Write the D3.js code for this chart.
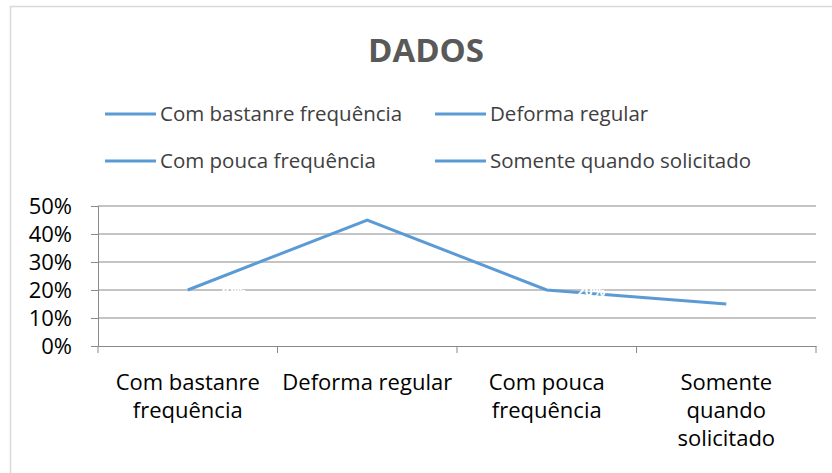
<!DOCTYPE html>
<html>
<head>
<meta charset="utf-8">
<script src="https://cdn.jsdelivr.net/npm/d3@7"></script>
<style>
  body { margin: 0; background: #fff; }
  text { font-family: "Open Sans", "Noto Sans", sans-serif; }
</style>
</head>
<body>
<div id="chart"></div>
<script>
const categories = ["Com bastanre frequência", "Deforma regular", "Com pouca frequência", "Somente quando solicitado"];
const catLines = [["Com bastanre", "frequência"], ["Deforma regular"], ["Com pouca", "frequência"], ["Somente", "quando", "solicitado"]];
const values = [0.20, 0.45, 0.20, 0.15];
const yTicks = [0, 0.1, 0.2, 0.3, 0.4, 0.5];

const W = 832, H = 473;
const svg = d3.select("#chart").append("svg")
  .attr("width", W)
  .attr("height", H);

// chart frame
svg.append("rect")
  .attr("x", 10.5).attr("y", 6.5)
  .attr("width", 840).attr("height", 480)
  .style("fill", "#fff")
  .style("stroke", "#d9d9d9")
  .style("stroke-width", 1.5);

const plot = { left: 98, right: 816, top: 206, bottom: 346 };

const x = d3.scaleBand().domain(categories).range([plot.left, plot.right]);
const y = d3.scaleLinear().domain([0, 0.5]).range([plot.bottom, plot.top]);

// title
svg.append("text")
  .attr("x", 426).attr("y", 62)
  .attr("text-anchor", "middle")
  .style("font-size", "33px")
  .style("font-weight", "bold")
  .style("fill", "#595959")
  .text("DADOS");

// legend
const legendPos = [[105, 114], [435, 114], [105, 161], [435, 161]];
const leg = svg.append("g");
categories.forEach((c, i) => {
  const [lx, ly] = legendPos[i];
  leg.append("line")
    .attr("x1", lx).attr("x2", lx + 51)
    .attr("y1", ly).attr("y2", ly)
    .style("stroke", "#5b9bd5")
    .style("stroke-width", 3);
  leg.append("text")
    .attr("x", lx + 55).attr("y", ly + 7)
    .style("font-size", "20.5px")
    .style("fill", "#404040")
    .text(c);
});

// gridlines
svg.append("g")
  .selectAll("line")
  .data(yTicks.slice(1))
  .enter()
  .append("line")
    .attr("x1", plot.left).attr("x2", plot.right)
    .attr("y1", d => y(d)).attr("y2", d => y(d))
    .style("stroke", "#898989")
    .style("stroke-width", 1);

// y axis
const yAxis = svg.append("g")
  .attr("transform", `translate(${plot.left},0)`)
  .call(d3.axisLeft(y).tickValues(yTicks).tickFormat(d3.format(".0%")).tickSize(7).tickPadding(19));
yAxis.select(".domain").style("stroke", "#898989");
yAxis.selectAll(".tick line").style("stroke", "#898989");
yAxis.selectAll("text").style("font-size", "22px").style("fill", "#000");

// x axis
const xAxis = svg.append("g")
  .attr("transform", `translate(0,${plot.bottom})`)
  .call(d3.axisBottom(x).tickSize(0).tickFormat(""));
xAxis.select(".domain").style("stroke", "#898989");
xAxis.selectAll(".tick").remove();

const bounds = categories.map(c => x(c)).concat([plot.right]);
svg.append("g")
  .selectAll("line")
  .data(bounds)
  .enter()
  .append("line")
    .attr("x1", d => d).attr("x2", d => d)
    .attr("y1", plot.bottom).attr("y2", plot.bottom + 7)
    .style("stroke", "#898989");

const xl = svg.append("g");
categories.forEach((c, i) => {
  const t = xl.append("text")
    .attr("text-anchor", "middle")
    .style("font-size", "22px")
    .style("fill", "#000");
  catLines[i].forEach((ln, j) => {
    t.append("tspan")
      .attr("x", x(c) + x.bandwidth() / 2)
      .attr("y", 390 + j * 28)
      .text(ln);
  });
});

// line
const cx = c => x(c) + x.bandwidth() / 2;
svg.append("path")
  .datum(values)
  .attr("d", d3.line().x((d, i) => cx(categories[i])).y(d => y(d)))
  .style("fill", "none")
  .style("stroke", "#5b9bd5")
  .style("stroke-width", 3);

// white data labels (as in the original, mostly invisible)
svg.append("g")
  .selectAll("text")
  .data(values)
  .enter()
  .append("text")
    .attr("x", (d, i) => cx(categories[i]) + 30)
    .attr("y", (d, i) => y(d) + 6)
    .style("font-size", "14px")
    .style("font-weight", "bold")
    .style("fill", "#fff")
    .text(d => d3.format(".0%")(d));
</script>
</body>
</html>
